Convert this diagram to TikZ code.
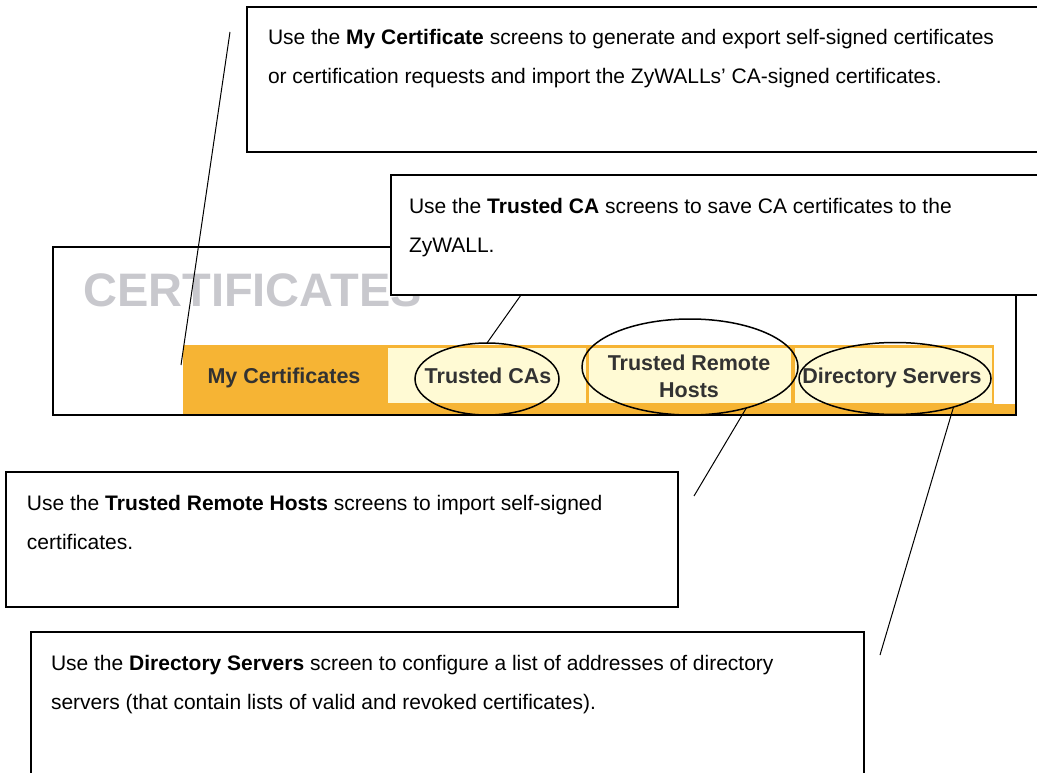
\documentclass[tikz,border=0pt]{standalone}
\usepackage{fontspec}
\setmainfont{Liberation Sans}
\usetikzlibrary{shapes.geometric,calc}
\definecolor{tabor}{RGB}{246,180,52}
\definecolor{tabyel}{RGB}{255,250,212}
\definecolor{certgray}{RGB}{200,200,205}
\definecolor{tabtxt}{RGB}{50,50,50}
\begin{document}
\begin{tikzpicture}[x=1pt,y=-1pt,
  callout/.style={draw=black,line width=1.3pt,fill=white,anchor=north west,inner sep=0pt,outer sep=0pt},
  note/.style={anchor=base west,inner sep=0pt,outer sep=0pt,font=\fontsize{21}{39}\selectfont,align=left},
  tablabel/.style={anchor=base,inner sep=0pt,text=tabtxt,font=\bfseries\fontsize{21.5}{26}\selectfont},
  ring/.style={draw=black,line width=1.5pt,ellipse,inner sep=0pt,outer sep=0pt},
  conn/.style={draw=black,line width=1pt}]
\useasboundingbox (0,0) rectangle (1037,773);
\clip (0,0) rectangle (1037,773);

% My Certificate callout (note anchor = baseline of the last line)
\node[callout,minimum width=820pt,minimum height=145pt] (b1) at (247,7) {};
\node[note] (t1) at (268,84) {Use the \textbf{My Certificate} screens to generate and export self-signed certificates\\or certification requests and import the ZyWALLs’ CA-signed certificates.};

% screenshot
\fill[tabor] (183,345) rectangle (994,415);
\fill[tabor] (994,404) rectangle (1016,415);
\fill[tabyel] (388,348) rectangle (586,403);
\fill[tabyel] (589,348) rectangle (791,403);
\fill[tabyel] (795,348) rectangle (992,403);
\node[anchor=base west,inner sep=0pt,text=certgray,font=\bfseries\fontsize{47}{50}\selectfont] (title) at (83,306) {CERTIFICATES};
\node[draw=black,line width=1.3pt,anchor=north west,minimum width=963pt,minimum height=168pt,inner sep=0pt,outer sep=0pt] (shot) at (53,247) {};

% Trusted CA callout
\node[callout,minimum width=700pt,minimum height=120pt] (b2) at (391,175) {};
\node[note] (t2) at (409,252) {Use the \textbf{Trusted CA} screens to save CA certificates to the\\ZyWALL.};

% tab labels
\node[tablabel] (tMy) at (284,383) {My Certificates};
\node[tablabel] (tCA) at (488,383) {Trusted CAs};
\node[tablabel] (tRH1) at (689,370) {Trusted Remote};
\node[tablabel] (tRH2) at (689,397) {Hosts};
\node[tablabel] (tDS) at (892,383) {Directory Servers};

% ellipses
\node[ring,minimum width=144pt,minimum height=72pt] (eCA) at (487,379) {};
\node[ring,minimum width=216pt,minimum height=96pt] (eRH) at (690,367) {};
\node[ring,minimum width=192pt,minimum height=72pt] (eDS) at (895,378.5) {};

% lower callouts
\node[callout,minimum width=672pt,minimum height=135pt] (b3) at (6,472) {};
\node[note] (t3) at (27,549) {Use the \textbf{Trusted Remote Hosts} screens to import self-signed\\certificates.};
\node[callout,minimum width=833pt,minimum height=200pt] (b4) at (31,632) {};
\node[note] (t4) at (51,709) {Use the \textbf{Directory Servers} screen to configure a list of addresses of directory\\servers (that contain lists of valid and revoked certificates).};

% connectors
\coordinate (c1a) at (230,32);
\coordinate (c1b) at (181,365);
\coordinate (c3) at (694,496);
\coordinate (c4) at (880,655);
\draw[conn] (c1a) -- (c1b);
\draw[conn] (eCA.north) -- ($(b2.south west)+(130,0)$);
\draw[conn] (eRH.-36) -- (c3);
\draw[conn] (eDS.-26) -- (c4);
\end{tikzpicture}
\end{document}
